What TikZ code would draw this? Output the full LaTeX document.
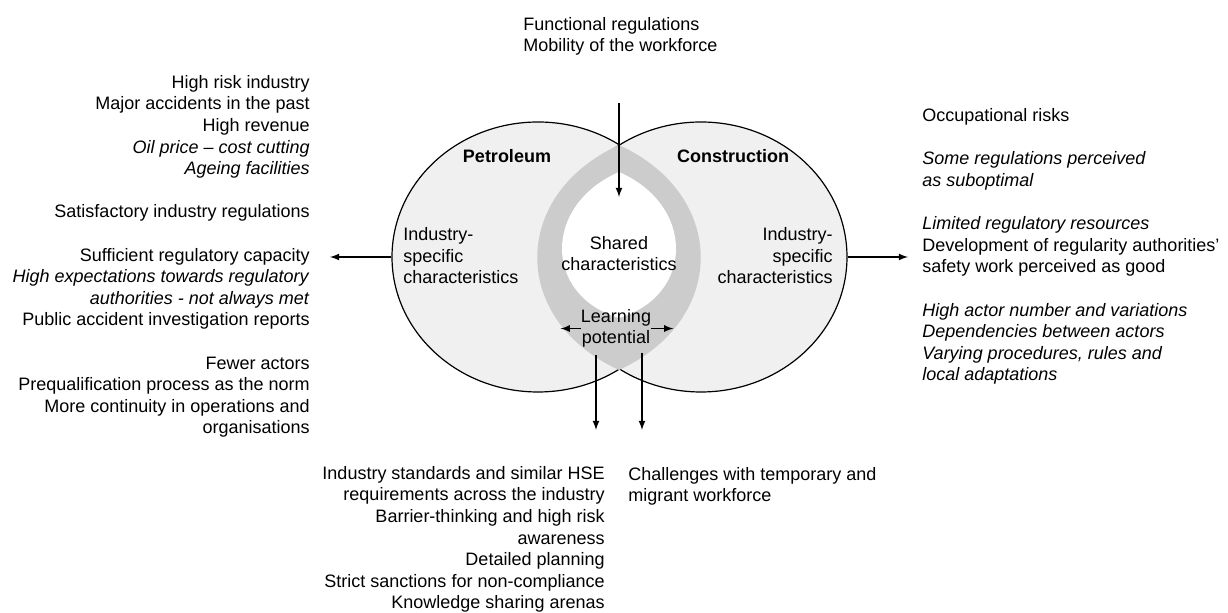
\documentclass[tikz,border=0pt]{standalone}
\usepackage{fontspec}
\setmainfont{Liberation Sans}
\usepackage{tikz}
\usetikzlibrary{arrows, shapes.geometric, positioning}
\definecolor{lightfill}{gray}{0.94}
\definecolor{bandgray}{gray}{0.80}
\tikzstyle{sector}=[ellipse, draw=black, fill=lightfill, line width=0.6pt, minimum width=146pt, minimum height=135pt, inner sep=0pt]
\tikzstyle{txt}=[font=\fontsize{9pt}{10.8pt}\selectfont, inner sep=0pt]
\tikzstyle{flow}=[->, >=latex, line width=0.6pt]

\begin{document}
\begin{tikzpicture}[x=0.5pt, y=-0.5pt]
  \useasboundingbox (0,0) rectangle (1228,613);
  % the two sectors
  \node[sector] (petro) at (538,257) {};
  \node[sector] (constr) [right of=petro, node distance=81.5pt] {};
  % overlap band
  \fill[bandgray] (619,145) .. controls (510,195) and (510,320) .. (619,370)
    .. controls (728,320) and (728,195) .. (619,145) -- cycle;
  \fill[white] (619,172) .. controls (543,205) and (543,295) .. (619,318)
    .. controls (695,295) and (695,205) .. (619,172) -- cycle;

  % (base = baseline of the last line)
  \node[txt, anchor=base] (petrolbl) at (507,163) {\textbf{Petroleum}};
  \node[txt, anchor=base] (constrlbl) at (733,163) {\textbf{Construction}};
  \node[txt, anchor=base west, align=left] (pspec) at (403,284) {Industry-\\specific\\characteristics};
  \node[txt, anchor=base east, align=right] (cspec) at (833,284) {Industry-\\specific\\characteristics};
  \node[txt, anchor=base, align=center] (shared) at (619,271) {Shared\\characteristics};
  \node[txt, anchor=base, align=center] (learn) at (616,344) {Learning\\potential};

  % lists around the diagram
  \node[txt, anchor=base west, align=left] (topdrv) at (523,52) {Functional regulations\\Mobility of the workforce};
  \node[txt, anchor=base east, align=right] (petrolist) at (310,434) {High risk industry\\Major accidents in the past\\High revenue\\\textit{Oil price -- cost cutting}\\\textit{Ageing facilities}\\[10.8pt]
    Satisfactory industry regulations\\[10.8pt]
    Sufficient regulatory capacity\\\textit{High expectations towards regulatory}\\\textit{authorities - not always met}\\Public accident investigation reports\\[10.8pt]
    Fewer actors\\Prequalification process as the norm\\More continuity in operations and\\organisations};
  \node[txt, anchor=base west, align=left] (constrlist) at (922,381) {Occupational risks\\[10.8pt]
    \textit{Some regulations perceived}\\\textit{as suboptimal}\\[10.8pt]
    \textit{Limited regulatory resources}\\Development of regularity authorities'\\safety work perceived as good\\[10.8pt]
    \textit{High actor number and variations}\\\textit{Dependencies between actors}\\\textit{Varying procedures, rules and}\\\textit{local adaptations}};
  \node[txt, anchor=base east, align=right] (petrolearn) at (605,609) {Industry standards and similar HSE\\requirements across the industry\\Barrier-thinking and high risk\\awareness\\Detailed planning\\Strict sanctions for non-compliance\\Knowledge sharing arenas};
  \node[txt, anchor=base west, align=left] (constrlearn) at (628,502) {Challenges with temporary and\\migrant workforce};

  % arrows
  \coordinate (topin) at (619,103);
  \coordinate (topend) at (619,197);
  \coordinate (petroout) at (330,257);
  \coordinate (constrout) at (908,257);
  \coordinate (learnl) at ([xshift=-10pt]learn.west);
  \coordinate (learnr) at ([xshift=11pt]learn.east);
  \coordinate (downl) at (596,355);
  \coordinate (downlend) at (596,430);
  \coordinate (downr) at (642,353);
  \coordinate (downrend) at (642,430);
  \draw[flow] (topin) -- (topend);
  \draw[flow] (petro.west) -- (petroout);
  \draw[flow] (constr.east) -- (constrout);
  \draw[flow] (learn.west) -- (learnl);
  \draw[flow] (learn.east) -- (learnr);
  \draw[flow] (downl) -- (downlend);
  \draw[flow] (downr) -- (downrend);
\end{tikzpicture}
\end{document}
